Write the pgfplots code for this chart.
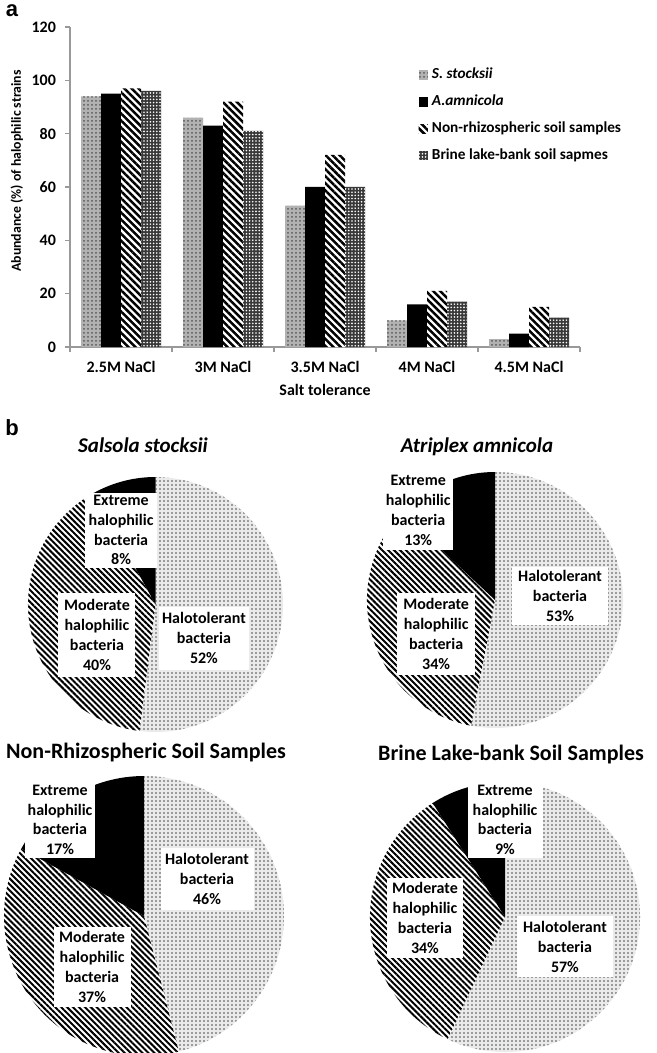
\documentclass[border=0pt]{standalone}
\usepackage{fontspec}
\setmainfont{Carlito}
\newfontfamily\arialf{Liberation Sans}
\usepackage{pgfplots}
\pgfplotsset{compat=1.18}
\usetikzlibrary{patterns,patterns.meta}
\definecolor{axgray}{gray}{0.6}
\tikzset{
 ssty/.style={fill=black!30, postaction={pattern={Dots[distance=2pt,radius=0.5pt]}, pattern color=black!65}},
 asty/.style={fill=black},
 nsty/.style={fill=white, postaction={pattern={Lines[angle=-45,distance=2.5pt,line width=1.25pt]}, pattern color=black}},
 bsty/.style={fill=black!78, postaction={pattern={Dots[distance=1.6pt,radius=0.45pt]}, pattern color=white}},
 halo/.style={fill=black!8, postaction={pattern={Dots[distance=2pt,radius=0.6pt]}, pattern color=black!50}},
 mod/.style={fill=white, postaction={pattern={Lines[angle=-45,distance=2.1pt,line width=1pt]}, pattern color=black}},
 ext/.style={fill=black},
 plbl/.style={fill=white, align=center, inner sep=0pt, font=\fontsize{8}{9.9}\selectfont\bfseries},
 ptitle/.style={font=\fontsize{11}{13}\selectfont\bfseries},
}
\pgfplotsset{
 mylegend/.style={legend image code/.code={\path[##1] (0pt,-2.3pt) rectangle (4.6pt,2.3pt);}},
 pieaxis/.style={scale only axis, hide axis, clip=false, anchor=center,
   xmin=-1, xmax=1, ymin=-1, ymax=1},
}
\begin{document}
\begin{tikzpicture}
\path[use as bounding box] (0,0) rectangle (328.5pt,-526.5pt);
\node[font=\arialf\bfseries\fontsize{11}{12}\selectfont] at (6pt,-5.5pt) {a};
\begin{axis}[
 at={(35pt,-173.5pt)}, anchor=south west,
 scale only axis, width=255pt, height=160pt,
 ybar=0pt, bar width=10pt,
 xmin=-0.5, xmax=4.5, ymin=0, ymax=120,
 xtick={0,1,2,3,4},
 xticklabels={2.5M NaCl,3M NaCl,3.5M NaCl,4M NaCl,4.5M NaCl},
 minor xtick={-0.5,0.5,1.5,2.5,3.5,4.5},
 ytick={0,20,40,60,80,100,120}, minor ytick={0,20,40,60,80,100,120},
 yticklabels={0,20,40,60,80,100,120},
 major tick length=0pt, minor tick length=2.5pt, tick align=outside,
 axis lines*=left,
 axis line style={draw=axgray, line width=0.6pt},
 tick style={draw=axgray, line width=0.6pt},
 ticklabel style={font=\fontsize{8}{9.6}\selectfont\bfseries},
 yticklabel style={xshift=-3.5pt},
 xticklabel style={yshift=-3.5pt},
 xlabel={Salt tolerance}, ylabel={Abundance (\%) of halophilic strains},
 every axis x label/.style={at={(axis description cs:0.5,-0.134)},anchor=center,font=\fontsize{8}{9.6}\selectfont\bfseries},
 every axis y label/.style={at={(axis description cs:-0.104,0.55)},anchor=center,rotate=90,font=\fontsize{6.9}{8.4}\selectfont\bfseries},
 legend style={draw=none, fill=none, at={(0.683,0.885)}, anchor=north west,
   font=\fontsize{7.65}{9}\selectfont\bfseries, row sep=2.6pt, inner sep=0pt},
 legend cell align=left,
]
\addplot[draw=none, ssty, mylegend] coordinates {(0,94) (1,86) (2,53) (3,10) (4,3)};
\addplot[draw=none, asty, mylegend] coordinates {(0,95) (1,83) (2,60) (3,16) (4,5)};
\addplot[draw=none, nsty, mylegend] coordinates {(0,97) (1,92) (2,72) (3,21) (4,15)};
\addplot[draw=none, bsty, mylegend] coordinates {(0,96) (1,81) (2,60) (3,17) (4,11)};
\legend{\textit{S. stocksii},\textit{A.amnicola},Non-rhizospheric soil samples,Brine lake-bank soil sapmes}
\end{axis}

\node[font=\arialf\bfseries\fontsize{11}{12}\selectfont] at (6pt,-214pt) {b};
\node[ptitle, font=\fontsize{10.5}{13}\selectfont\bfseries\itshape] at (71.5pt,-222.5pt) {Salsola stocksii};
\node[ptitle, font=\fontsize{10.5}{13}\selectfont\bfseries\itshape] at (238.5pt,-223.5pt) {Atriplex amnicola};
\node[ptitle] at (73pt,-376.5pt) {Non-Rhizospheric Soil Samples};
\node[ptitle] at (255.5pt,-377.5pt) {Brine Lake-bank Soil Samples};

% Pie 1: Salsola stocksii (52, 40, 8)
\begin{axis}[pieaxis, at={(77.75pt,-302.25pt)}, width=127.5pt, height=127.5pt]
\path[halo] (axis cs:0,0) -- ++(90:63.75pt) arc[start angle=90, delta angle={-3.6*52}, radius=63.75pt] -- cycle;
\path[mod] (axis cs:0,0) -- ++({90-3.6*52}:63.75pt) arc[start angle={90-3.6*52}, delta angle={-3.6*40}, radius=63.75pt] -- cycle;
\path[ext] (axis cs:0,0) -- ++({90-3.6*92}:63.75pt) arc[start angle={90-3.6*92}, delta angle={-3.6*8}, radius=63.75pt] -- cycle;
\node[plbl, minimum width=36pt, minimum height=37.5pt] at (axis cs:-0.27,0.584) {Extreme\\halophilic\\bacteria\\8\%};
\node[plbl, minimum width=38.5pt, minimum height=42pt] at (axis cs:-0.459,-0.239) {Moderate\\halophilic\\bacteria\\40\%};
\node[plbl, minimum width=45pt, minimum height=31.5pt] at (axis cs:0.38,-0.263) {Halotolerant\\bacteria\\52\%};
\end{axis}

% Pie 2: Atriplex amnicola (53, 34, 13)
\begin{axis}[pieaxis, at={(247.5pt,-300pt)}, width=128pt, height=128pt]
\path[halo] (axis cs:0,0) -- ++(90:64pt) arc[start angle=90, delta angle={-3.6*53}, radius=64pt] -- cycle;
\path[mod] (axis cs:0,0) -- ++({90-3.6*53}:64pt) arc[start angle={90-3.6*53}, delta angle={-3.6*34}, radius=64pt] -- cycle;
\path[ext] (axis cs:0,0) -- ++({90-3.6*87}:64pt) arc[start angle={90-3.6*87}, delta angle={-3.6*13}, radius=64pt] -- cycle;
\node[plbl, minimum width=35pt, minimum height=40pt] at (axis cs:-0.60,0.70) {Extreme\\halophilic\\bacteria\\13\%};
\node[plbl, minimum width=39pt, minimum height=41pt] at (axis cs:-0.46,-0.266) {Moderate\\halophilic\\bacteria\\34\%};
\node[plbl, minimum width=48pt, minimum height=29pt] at (axis cs:0.508,0.031) {Halotolerant\\bacteria\\53\%};
\end{axis}

% Pie 3: Non-rhizospheric (46, 37, 17)
\begin{axis}[pieaxis, at={(72pt,-458pt)}, width=140pt, height=140pt]
\path[halo] (axis cs:0,0) -- ++(90:70pt) arc[start angle=90, delta angle={-3.6*46}, radius=70pt] -- cycle;
\path[mod] (axis cs:0,0) -- ++({90-3.6*46}:70pt) arc[start angle={90-3.6*46}, delta angle={-3.6*37}, radius=70pt] -- cycle;
\path[ext] (axis cs:0,0) -- ++({90-3.6*83}:70pt) arc[start angle={90-3.6*83}, delta angle={-3.6*17}, radius=70pt] -- cycle;
\node[plbl, minimum width=35pt, minimum height=38pt] at (axis cs:-0.6,0.686) {Extreme\\halophilic\\bacteria\\17\%};
\node[plbl, minimum width=46.5pt, minimum height=31pt] at (axis cs:0.45,0.264) {Halotolerant\\bacteria\\46\%};
\node[plbl, minimum width=38.5pt, minimum height=40pt] at (axis cs:-0.371,-0.364) {Moderate\\halophilic\\bacteria\\37\%};
\end{axis}

% Pie 4: Brine lake-bank (57, 34, 9)
\begin{axis}[pieaxis, at={(252.5pt,-458.5pt)}, width=135pt, height=135pt]
\path[halo] (axis cs:0,0) -- ++(90:67.5pt) arc[start angle=90, delta angle={-3.6*57}, radius=67.5pt] -- cycle;
\path[mod] (axis cs:0,0) -- ++({90-3.6*57}:67.5pt) arc[start angle={90-3.6*57}, delta angle={-3.6*34}, radius=67.5pt] -- cycle;
\path[ext] (axis cs:0,0) -- ++({90-3.6*91}:67.5pt) arc[start angle={90-3.6*91}, delta angle={-3.6*9}, radius=67.5pt] -- cycle;
\node[plbl, minimum width=37.5pt, minimum height=38pt] at (axis cs:0.0,0.72) {Extreme\\halophilic\\bacteria\\9\%};
\node[plbl, minimum width=38pt, minimum height=40pt] at (axis cs:-0.593,-0.007) {Moderate\\halophilic\\bacteria\\34\%};
\node[plbl, minimum width=48pt, minimum height=30.5pt] at (axis cs:0.444,-0.222) {Halotolerant\\bacteria\\57\%};
\end{axis}
\end{tikzpicture}
\end{document}
